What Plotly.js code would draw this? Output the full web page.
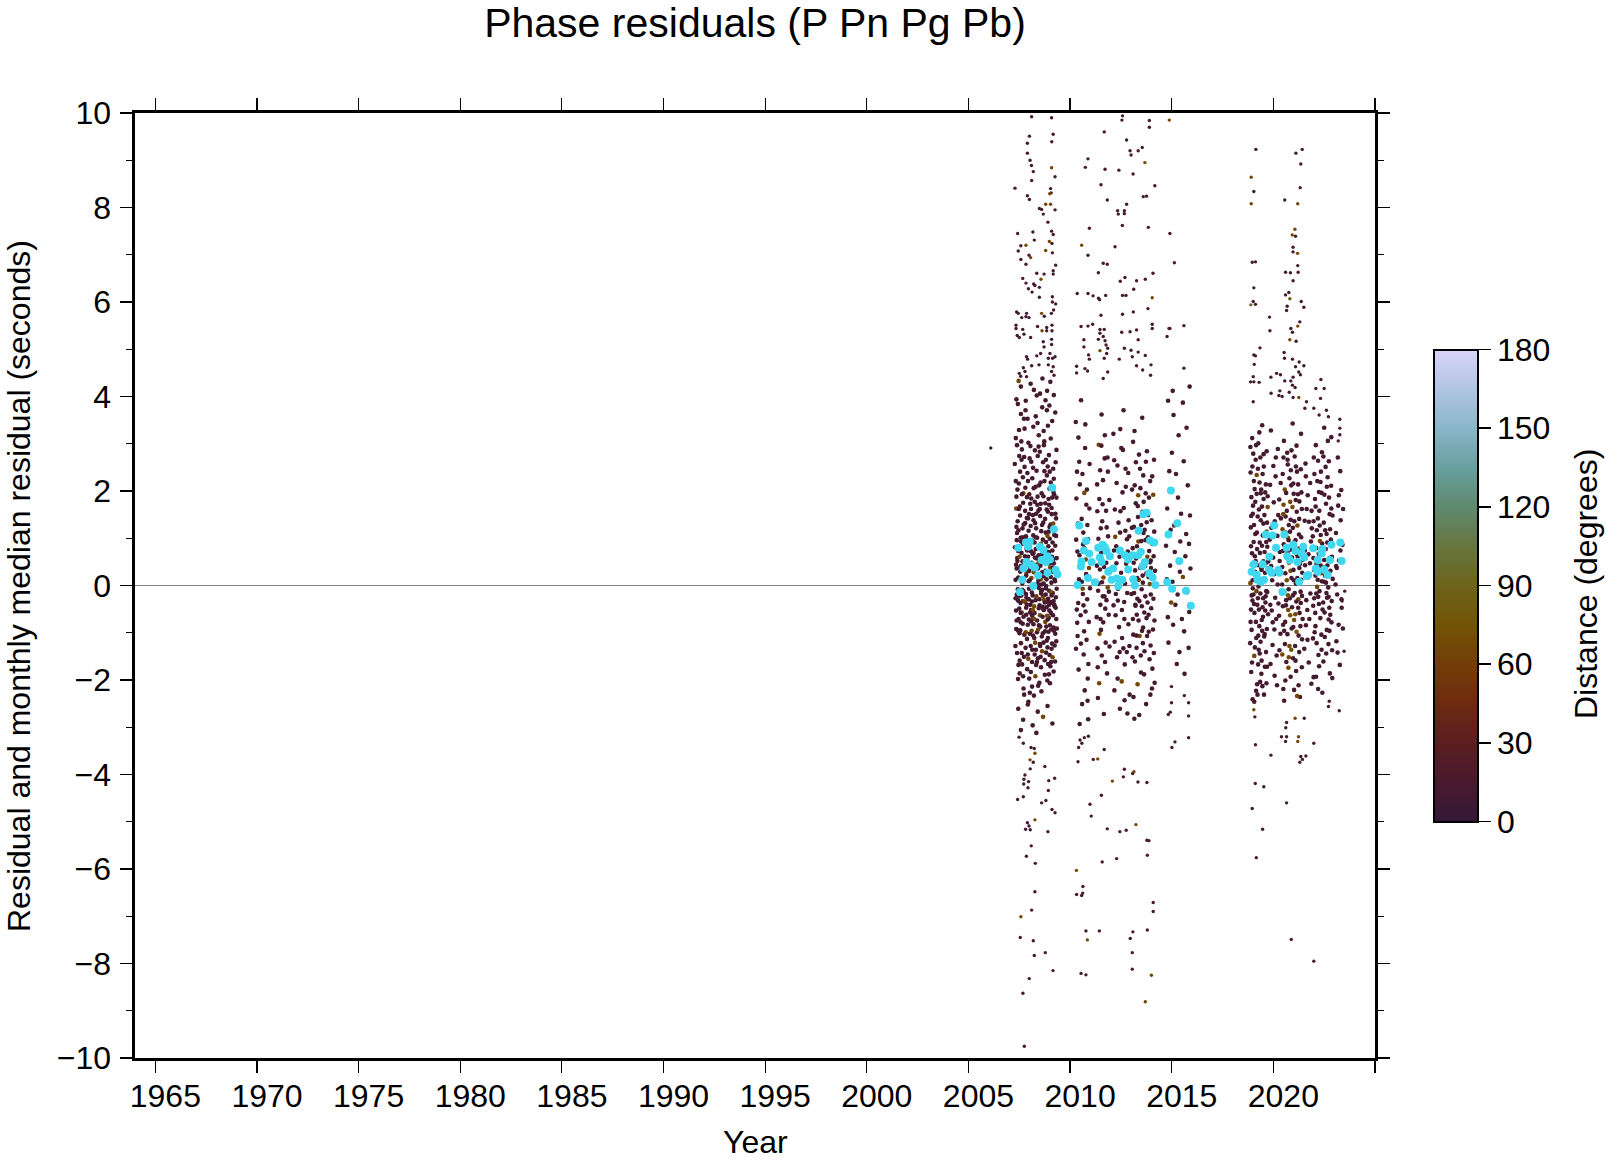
<!DOCTYPE html>
<html>
<head>
<meta charset="utf-8">
<script src="https://cdn.plot.ly/plotly-3.0.1.min.js"></script>
<style>html,body{margin:0;padding:0;background:#fff;}#chart{width:1606px;height:1161px;}</style>
</head>
<body>
<div id="chart"></div>
<script>
// ---- Data: each row = [year, residual (s), distance (deg)] ----
const isolatedPoints = [[2006.10,2.91,14]];

const upperTailsABC = [[2008.11,9.92,14],[2009.09,9.90,12],[2012.58,9.94,16],[2012.55,9.85,11],[2013.90,9.84,15],[2013.90,9.70,13],[2014.88,9.85,66],[2008.00,9.51,14],[2009.17,9.55,12],[2009.10,9.39,17],[2007.90,9.36,13],[2011.68,9.60,11],[2012.78,9.43,15],[2013.55,9.27,12],[2013.35,9.20,14],[2012.95,9.20,10],[2013.00,9.11,16],[2007.90,9.15,13],[2008.03,9.00,12],[2008.10,8.89,15],[2008.19,8.76,11],[2010.88,9.03,14],[2010.75,8.85,12],[2011.72,8.81,16],[2012.40,8.79,13],[2013.10,8.71,12],[2013.68,8.95,68],[2009.09,8.84,62],[2009.26,8.65,13],[2008.11,8.57,14],[2009.04,8.40,12],[2009.07,8.31,15],[2007.29,8.41,13],[2011.52,8.48,11],[2014.17,8.46,14],[2007.90,8.25,12],[2008.00,8.17,16],[2009.00,8.29,64],[2013.76,8.24,13],[2013.60,8.23,15],[2011.83,8.16,12],[2012.78,8.07,14],[2008.49,7.98,13],[2008.60,7.96,11],[2008.68,7.86,15],[2008.80,8.07,66],[2009.04,8.07,63],[2009.26,7.95,12],[2012.34,7.93,14],[2012.67,7.93,13],[2012.37,7.86,11],[2012.67,7.87,16],[2008.91,7.69,13],[2009.09,7.50,12],[2009.17,7.43,15],[2007.42,7.45,14],[2008.17,7.48,12],[2010.95,7.56,13],[2012.57,7.62,11],[2013.85,7.58,14],[2014.91,7.45,12],[2007.83,7.20,67],[2008.24,7.31,13],[2008.98,7.28,65],[2009.11,7.24,12],[2007.58,7.19,14],[2007.45,7.08,11],[2010.57,7.20,68],[2012.21,7.17,13],[2008.80,7.09,64],[2009.13,7.04,12],[2007.98,6.99,15],[2008.06,6.94,66],[2007.58,6.90,13],[2007.83,6.80,12],[2009.29,6.78,14],[2010.88,6.99,11],[2011.63,6.82,13],[2011.83,6.80,15],[2015.13,6.83,12],[2011.39,6.62,14],[2009.17,6.66,13],[2008.72,6.59,12],[2008.36,6.61,16],[2009.17,6.59,11],[2014.08,6.61,13],[2007.67,6.50,12],[2007.83,6.40,14],[2008.21,6.38,13],[2008.27,6.35,11],[2008.57,6.48,65],[2007.95,6.28,12],[2008.13,6.21,14],[2008.49,6.31,13],[2013.27,6.45,12],[2013.70,6.48,15],[2012.47,6.44,13],[2012.70,6.52,11],[2013.13,6.27,14],[2010.35,6.18,12],[2010.88,6.18,13],[2011.13,6.13,15],[2011.40,6.08,12],[2011.75,6.14,14],[2012.58,6.14,13],[2012.75,6.14,11],[2014.04,6.09,64],[2008.49,6.10,12],[2009.13,6.11,13],[2009.13,6.00,14],[2009.29,5.96,12],[2009.19,5.83,13],[2009.08,5.76,15],[2007.37,5.79,12],[2007.45,5.76,14],[2007.62,5.67,13],[2007.83,5.69,11],[2007.98,5.67,15],[2007.86,5.76,12],[2011.52,5.72,13],[2013.83,5.86,14],[2013.11,5.79,12],[2012.58,5.74,13],[2011.45,6.05,11],[2014.04,5.53,14],[2014.04,5.44,12],[2014.86,5.44,66],[2014.91,5.44,13],[2015.60,5.50,12],[2008.60,5.76,65],[2008.73,5.70,13],[2008.40,5.48,12],[2008.62,5.39,66],[2008.85,5.46,14],[2008.85,5.39,13],[2007.34,5.51,12],[2007.34,5.44,15],[2007.67,5.42,13],[2007.40,5.29,11],[2007.50,5.25,14],[2007.73,5.32,12],[2008.06,5.25,13],[2009.11,5.51,14],[2009.11,5.39,12],[2009.09,5.21,13],[2009.09,5.10,11],[2010.54,5.48,14],[2010.88,5.49,12],[2011.11,5.53,13],[2011.47,5.42,15],[2011.68,5.42,12],[2011.47,5.34,14],[2011.39,5.21,13],[2011.63,5.27,11],[2011.72,5.18,14],[2011.77,5.09,12],[2013.27,5.41,13],[2013.35,5.20,15],[2012.95,5.37,12],[2012.54,5.36,14],[2014.77,5.27,13],[2008.68,5.16,12],[2008.72,5.05,14],[2009.01,4.91,13],[2008.93,4.81,11],[2009.14,4.81,15],[2009.26,4.84,12],[2008.55,4.91,13],[2008.36,4.86,14],[2007.86,4.84,12],[2007.91,4.79,13],[2010.68,5.20,11],[2010.68,5.05,14],[2010.91,4.88,12],[2010.95,4.79,13],[2011.85,5.02,15],[2011.68,4.81,12],[2011.80,4.91,14],[2011.47,4.97,65],[2012.42,4.79,13],[2012.67,5.02,12],[2013.00,4.98,14],[2013.35,4.94,13],[2013.70,4.87,11],[2013.06,4.84,14],[2013.98,4.67,12],[2013.57,4.56,13],[2013.27,4.65,15],[2013.96,4.45,12],[2015.60,4.60,14],[2008.11,4.65,13],[2007.70,4.61,12],[2007.78,4.53,14],[2007.50,4.49,13],[2007.57,4.43,11],[2007.86,4.42,15],[2008.47,4.67,12],[2008.93,4.67,13],[2009.17,4.63,14],[2009.09,4.53,12],[2009.21,4.45,13],[2010.32,4.64,11],[2010.32,4.50,14],[2010.73,4.59,12],[2010.86,4.54,13],[2011.85,4.52,15],[2011.63,4.38,12]];

const lowerTailsABC = [[2007.49,-3.21,13],[2007.70,-3.34,12],[2008.08,-3.43,14],[2008.24,-3.45,13],[2008.03,-3.69,66],[2008.19,-3.74,12],[2008.27,-3.55,64],[2008.04,-3.88,13],[2007.78,-4.01,14],[2007.73,-4.10,12],[2007.72,-4.20,13],[2007.96,-4.15,11],[2007.93,-4.28,14],[2007.42,-4.53,12],[2007.70,-4.47,13],[2008.76,-3.83,15],[2008.95,-4.13,12],[2009.24,-4.08,13],[2008.93,-4.34,14],[2008.60,-4.60,12],[2008.81,-4.55,13],[2009.11,-4.74,11],[2009.26,-4.81,14],[2008.27,-4.96,66],[2007.90,-5.02,12],[2007.98,-5.09,13],[2007.81,-5.16,14],[2008.04,-5.17,12],[2008.91,-5.21,13],[2008.09,-5.51,12],[2007.85,-5.73,14],[2008.29,-5.88,13],[2008.27,-6.48,12],[2008.11,-6.87,14],[2007.58,-7.01,67],[2007.55,-7.45,13],[2008.19,-7.52,12],[2008.24,-7.83,14],[2008.78,-7.77,13],[2009.16,-8.15,12],[2007.99,-8.32,14],[2007.68,-8.63,13],[2007.75,-9.75,12],[2010.39,-3.73,13],[2010.49,-3.27,12],[2010.70,-3.22,14],[2010.90,-3.19,13],[2010.58,-3.34,12],[2010.42,-3.43,14],[2011.14,-3.68,13],[2011.36,-3.67,66],[2011.68,-3.47,12],[2012.67,-3.89,14],[2012.62,-4.05,13],[2013.08,-3.98,12],[2013.14,-3.94,65],[2013.34,-4.16,14],[2013.78,-4.17,13],[2012.08,-4.14,64],[2011.54,-4.44,12],[2010.98,-4.63,13],[2011.04,-4.88,14],[2011.83,-5.15,12],[2012.45,-5.21,13],[2012.76,-5.18,14],[2013.24,-5.06,66],[2013.78,-5.39,12],[2013.88,-5.40,13],[2013.80,-5.71,14],[2011.58,-5.85,12],[2012.29,-5.78,13],[2010.31,-6.03,67],[2010.63,-6.37,12],[2010.32,-6.54,14],[2010.57,-6.56,13],[2010.62,-6.51,12],[2014.09,-6.71,14],[2014.09,-6.90,13],[2010.78,-7.31,12],[2010.85,-7.50,65],[2011.44,-7.31,13],[2013.09,-7.33,14],[2012.96,-7.47,12],[2013.06,-7.77,13],[2013.80,-7.29,14],[2010.54,-8.21,12],[2010.78,-8.24,13],[2013.06,-8.12,14],[2014.00,-8.25,66],[2013.70,-8.81,64],[2014.99,-2.14,13],[2014.99,-2.48,12],[2015.62,-2.33,14],[2014.83,-2.73,13],[2014.93,-2.68,12],[2015.16,-3.31,14],[2015.01,-3.43,13],[2015.83,-2.48,12],[2015.83,-2.76,14],[2015.83,-3.22,13]];

const upperTailsD = [[2019.14,9.23,13],[2021.11,9.15,12],[2021.42,9.23,14],[2021.35,8.92,13],[2018.91,8.64,66],[2019.04,8.34,12],[2021.32,8.42,13],[2018.91,8.08,65],[2020.56,8.16,14],[2021.20,8.08,64],[2021.06,7.54,67],[2020.93,7.42,66],[2021.09,7.39,13],[2020.97,7.16,12],[2020.97,7.06,14],[2021.19,7.03,65],[2021.20,6.77,13],[2018.96,6.84,12],[2019.12,6.85,14],[2020.60,6.63,13],[2020.84,6.62,12],[2021.22,6.63,14],[2020.97,6.45,13],[2019.04,6.30,12],[2020.60,6.15,14],[2020.76,6.20,13],[2020.81,6.07,80],[2021.37,6.01,12],[2021.50,5.89,14],[2020.68,5.91,13],[2020.65,5.82,12],[2019.01,6.01,13],[2019.12,5.95,14],[2018.89,5.94,95],[2019.81,5.68,12],[2021.30,5.58,13],[2021.20,5.49,66],[2019.83,5.39,14],[2020.86,5.44,13],[2020.94,5.36,12],[2020.81,5.20,65],[2021.12,5.17,14],[2019.34,5.03,13],[2019.04,4.88,12],[2019.12,4.86,14],[2019.06,4.68,13],[2020.53,4.93,12],[2020.55,4.81,14],[2020.94,4.79,13],[2021.27,4.73,12],[2021.09,4.63,14],[2021.50,4.65,13],[2021.25,4.52,12],[2019.01,4.42,14],[2019.04,4.31,13],[2018.88,4.31,12],[2019.30,4.30,14],[2019.88,4.41,13],[2020.16,4.49,12],[2020.35,4.46,14],[2020.56,4.33,13],[2020.86,4.33,12],[2020.97,4.41,14],[2021.33,4.46,13],[2020.94,4.24,12],[2021.07,4.19,14],[2022.34,4.36,13],[2022.09,4.17,12],[2022.50,4.17,14],[2022.32,3.96,13],[2019.89,4.07,12],[2020.32,4.12,14],[2020.27,4.02,13],[2020.43,4.00,12],[2020.78,4.09,14],[2020.97,3.98,13],[2021.25,3.98,65],[2019.01,3.89,12],[2021.63,3.89,14],[2021.55,3.75,13],[2022.61,3.71,12],[2022.71,3.57,14],[2022.25,3.61,13],[2021.99,3.75,12],[2023.27,3.52,14],[2023.27,3.33,13],[2023.27,3.19,12],[2023.19,3.06,14]];

const lowerTailsD = [[2019.09,-2.78,13],[2019.04,-2.63,66],[2019.12,-3.37,12],[2019.88,-3.59,14],[2020.40,-3.20,13],[2020.65,-3.20,12],[2020.60,-3.30,14],[2021.24,-3.20,65],[2021.20,-3.30,64],[2021.07,-2.81,66],[2021.52,-2.81,13],[2020.61,-3.01,12],[2020.65,-2.90,14],[2021.35,-3.62,13],[2021.43,-3.68,12],[2021.30,-3.74,14],[2021.60,-3.61,13],[2021.99,-3.34,12],[2022.75,-2.45,14],[2022.71,-2.56,13],[2023.24,-2.65,12],[2019.11,-4.19,14],[2019.53,-4.26,13],[2018.96,-4.72,12],[2020.65,-4.60,14],[2019.47,-5.16,13],[2019.16,-5.76,12],[2020.88,-7.49,14],[2021.99,-7.95,13],[2023.48,-1.39,12],[2023.51,-0.12,14],[2023.38,-0.33,13]];

const coreA = [[2007.33,3.12,13],[2008.47,-0.84,16],[2009.21,1.93,11],[2007.86,0.27,62],[2008.92,-1.66,14],[2007.54,2.41,12],[2008.15,0.95,17],[2009.02,-0.35,13],[2007.71,-2.18,15],[2008.63,3.77,12],
[2009.34,0.58,14],[2007.42,1.36,11],[2008.28,-1.21,66],[2008.81,2.66,13],[2007.98,-0.07,12],[2009.12,3.48,15],[2007.62,-1.43,13],[2008.39,1.71,14],[2008.71,-0.52,18],[2007.29,0.81,12],
[2008.05,2.95,13],[2009.27,-1.02,15],[2007.79,1.58,14],[2008.56,0.13,71],[2008.99,1.24,12],[2007.47,-0.71,16],[2008.22,-2.33,13],[2008.87,4.12,14],[2007.93,2.21,11],[2009.08,0.06,13],
[2007.58,3.63,12],[2008.34,0.44,15],[2008.76,-1.89,13],[2007.38,-0.19,14],[2009.17,2.47,12],[2008.11,-0.96,68],[2007.83,1.04,13],[2008.51,2.83,15],[2008.95,-0.68,12],[2007.66,0.51,14],
[2008.42,-1.54,13],[2009.31,1.42,12],[2007.51,-1.01,15],[2008.19,3.36,14],[2008.83,0.72,13],[2007.89,-1.77,12],[2009.05,2.18,16],[2007.36,1.88,13],[2008.67,-0.23,64],[2008.02,0.39,14],
[2007.74,2.72,12],[2008.58,1.15,13],[2009.24,-0.44,15],[2007.95,-2.46,13],[2008.31,2.09,14],[2008.89,-1.31,12],[2007.45,0.17,16],[2009.14,0.91,13],[2008.08,1.62,12],[2007.68,-0.33,67],
[2008.73,3.05,14],[2007.31,-1.28,13],[2008.45,0.64,12],[2009.01,-2.07,15],[2007.82,3.91,13],[2008.25,-0.58,14],[2008.94,1.83,12],[2007.57,1.01,13],[2009.29,2.61,15],[2008.13,-1.62,12],
[2007.41,2.03,14],[2008.61,-1.08,13],[2008.36,4.02,12],[2007.97,0.85,66],[2009.19,-0.89,14],[2007.64,-0.09,13],[2008.79,0.31,15],[2008.18,2.49,12],[2007.88,-1.13,13],[2009.36,0.22,14],
[2008.53,1.47,12],[2007.49,3.29,13],[2008.97,-0.11,15],[2007.72,1.29,14],[2008.29,-1.92,63],[2008.86,2.33,12],[2007.34,-0.53,13],[2009.09,1.64,14],[2008.04,-0.41,12],[2008.66,0.97,15],
[2007.61,0.69,13],[2008.41,2.74,12],[2009.26,-1.61,14],[2007.84,-0.62,13],[2008.21,0.28,69],[2008.91,3.38,12],[2007.52,-1.86,14],[2009.03,0.47,13],[2008.49,-0.29,12],[2007.99,1.93,15],
[2008.77,-0.97,13],[2007.39,1.11,14],[2008.14,-1.36,12],[2009.15,-0.16,13],[2007.76,2.51,15],[2008.59,-2.24,14],[2008.33,1.21,12],[2007.56,-0.37,13],[2008.98,0.62,65],[2007.91,3.53,14],
[2009.32,-0.71,12],[2008.07,0.73,13],[2008.69,1.89,15],[2007.44,-0.95,14],[2008.84,-0.46,12],[2007.69,1.75,13],[2008.24,0.02,14],[2009.11,-1.23,12],[2007.81,0.44,13],[2008.55,2.18,15],
[2007.28,2.57,13],[2008.38,-0.74,14],[2009.22,1.07,12],[2007.94,-1.55,66],[2008.72,0.19,13],[2008.01,2.69,14],[2007.59,0.93,12],[2008.88,-2.01,13],[2008.46,3.18,15],[2009.06,-0.58,14],
[2007.67,-0.81,12],[2008.17,1.49,13],[2008.93,0.83,14],[2007.37,0.36,12],[2008.62,-1.39,64],[2009.18,1.98,13],[2007.85,-0.26,14],[2008.27,2.86,12],[2008.82,-0.01,13],[2007.53,1.67,15],
[2008.99,-1.47,13],[2007.46,-1.68,12],[2008.35,0.57,14],[2009.28,0.35,13],[2007.75,-1.04,12],[2008.52,-0.63,70],[2008.09,1.84,13],[2008.74,2.42,14],[2007.63,2.88,12],[2009.07,-0.93,13],
[2008.44,0.11,12],[2007.92,-0.83,14],[2008.68,1.33,13],[2007.32,-0.27,12],[2009.13,0.74,15],[2008.23,-0.44,67],[2008.85,-1.17,13],[2007.78,0.62,14],[2008.57,-1.73,12],[2009.33,1.86,13],
[2007.55,0.29,14],[2008.12,-0.15,13],[2008.96,2.76,12],[2007.87,1.43,15],[2008.43,-2.12,13],[2009.24,0.13,14],[2007.43,3.84,12],[2008.78,-0.77,64],[2008.06,-1.28,13],[2008.64,0.55,14],
[2007.73,-1.51,12],[2009.04,1.29,13],[2008.32,1.02,15],[2007.96,0.09,14],[2008.86,-0.34,12],[2007.35,-0.92,13],[2009.19,-1.82,14],[2008.48,0.83,12],[2008.16,-0.69,65],[2007.65,0.04,13],
[2008.91,1.56,14],[2007.48,2.16,12],[2008.58,-0.12,13],[2009.02,0.38,66],[2007.84,-0.47,14],[2008.37,-0.99,12],[2008.71,2.97,13],[2007.99,-1.97,15],[2009.30,-0.25,13],[2008.20,0.69,14],
[2007.60,-0.21,12],[2008.80,1.12,13],[2008.03,-0.57,14],[2009.16,-0.63,12],[2007.70,1.95,65],[2008.54,0.42,13],[2008.26,-1.46,14],[2008.95,0.26,12],[2007.40,0.58,13],[2009.09,-1.34,14],
[2007.77,0.33,13],[2008.40,1.88,12],[2008.83,-0.87,14],[2007.50,-0.49,13],[2009.25,1.17,12],[2008.10,0.16,63],[2008.66,-1.01,14],[2007.90,2.38,13],[2008.30,-0.31,12],[2009.00,0.99,13],
[2007.58,-1.22,14],[2008.50,-0.42,12],[2008.97,1.71,13],[2007.66,1.21,14],[2008.18,-1.06,12],[2008.87,0.54,13],[2007.35,1.63,66],[2009.12,-0.37,14],[2008.44,1.58,12],[2007.97,-0.72,13],
[2008.61,0.66,14],[2007.45,0.73,13],[2009.20,0.47,12],[2008.06,1.26,14],[2008.75,-1.58,13],[2007.81,-1.32,12],[2008.34,-0.23,64],[2008.92,-0.28,13],[2007.63,0.16,14],[2009.32,-1.18,12],
[2008.14,2.27,13],[2008.69,-0.51,14],[2007.39,-1.43,12],[2008.99,2.05,13],[2008.25,0.91,15],[2007.86,0.78,12],[2008.53,-0.87,13],[2009.06,-0.14,67],[2007.71,-0.66,14],[2008.41,0.03,12],
[2008.80,-0.19,13],[2007.54,1.48,14],[2008.20,-0.82,12],[2009.15,0.29,13],[2007.93,0.61,14],[2008.60,1.95,12],[2008.02,-2.27,13],[2008.89,1.05,65],[2007.47,-0.14,14],[2008.33,-1.68,12],
[2009.27,0.84,13],[2007.68,2.29,14],[2008.46,-0.05,12],[2008.94,-0.98,13],[2007.32,0.12,14],[2008.11,0.48,12],[2008.72,-0.31,66],[2007.83,-0.18,13],[2008.56,1.73,14],[2009.03,-1.71,12],
[2007.44,-0.32,13],[2008.28,1.32,12],[2008.84,0.13,14],[2007.96,1.16,13],[2008.65,-0.66,12],[2009.22,-0.41,13],[2007.62,-0.57,64],[2008.38,0.24,14],[2008.98,-0.53,12],[2008.04,0.95,13],
[2007.74,0.89,12],[2008.51,-1.24,14],[2009.10,1.51,13],[2008.16,-0.21,12],[2008.77,1.41,13],[2007.51,0.38,14],[2008.43,-0.93,65],[2009.34,-0.07,12],[2007.88,1.87,13],[2008.24,-1.11,14],
[2008.90,-0.72,12],[2007.57,-0.78,13],[2008.31,0.77,14],[2008.70,0.04,12],[2007.80,-0.35,63],[2009.18,0.56,13],[2008.08,-0.52,14],[2008.55,-1.51,12],[2007.38,0.96,13],[2008.96,0.71,14],
[2008.19,1.06,12],[2007.69,-1.92,13],[2008.82,-1.42,14],[2009.05,0.18,12],[2008.47,0.49,66],[2007.99,0.31,13],[2008.63,-0.09,14],[2007.49,-0.23,12],[2009.29,-0.47,13],[2008.13,-0.63,14],
[2007.36,3.94,13],[2007.58,4.21,12],[2007.81,3.71,14],[2008.06,4.27,13],[2008.31,3.58,12],[2008.52,4.06,13],[2008.79,3.92,14],[2009.03,4.31,12],[2009.27,3.66,13],[2007.47,4.33,65],[2007.73,3.53,12],[2008.22,4.14,13],[2008.64,4.38,12],[2008.98,3.81,14],[2009.20,4.03,13],
[2007.45,-2.61,13],[2007.69,-2.84,12],[2007.92,-2.52,14],[2008.16,-2.96,13],[2008.41,-2.67,12],[2008.67,-2.78,65],[2008.89,-2.55,13],[2009.13,-2.92,12],[2007.58,-3.06,14],[2008.34,-3.12,13],
[2007.41,0.52,13],[2007.63,1.93,12],[2007.87,-0.41,14],[2008.09,2.62,13],[2008.32,-1.36,12],[2008.57,0.88,66],[2008.81,-0.06,13],[2009.05,3.11,14],[2009.28,1.52,12],[2007.52,-1.59,13],
[2007.76,3.32,14],[2008.01,0.11,12],[2008.26,1.77,13],[2008.49,-2.06,14],[2008.74,2.21,12],[2008.97,-0.41,13],[2009.21,-0.96,14],[2007.33,2.21,12],[2007.58,0.41,13],[2007.82,-0.99,64],
[2008.07,-1.83,13],[2008.35,2.43,14],[2008.59,0.02,12],[2008.85,1.61,13],[2009.09,-0.21,14],[2009.33,2.87,12],[2007.46,1.17,13],[2007.71,-0.12,14],[2007.95,3.02,12],[2008.20,1.38,13],
[2008.45,2.94,14],[2008.69,-1.21,12],[2008.94,0.47,13],[2009.17,1.31,66],[2007.37,-0.74,12],[2007.61,2.66,13],[2007.85,0.97,14],[2008.12,-0.34,12],[2008.37,-1.62,13],[2008.62,1.28,14],
[2008.86,3.71,12],[2009.11,0.61,13],[2009.35,-0.91,14],[2007.50,2.74,12],[2007.74,-2.31,13],[2007.98,1.51,14],[2008.23,-0.71,67],[2008.48,2.12,12],[2008.72,0.76,13],[2008.96,-1.88,14],
[2009.20,2.26,12],[2007.43,-0.08,13],[2007.67,1.02,14],[2007.92,-1.46,12],[2008.15,0.67,13],[2008.40,3.44,14],[2008.65,-0.45,12],[2008.90,2.52,13],[2009.14,-1.52,65],[2007.34,0.44,12],
[2007.57,-0.58,13],[2007.80,2.07,14],[2008.04,1.73,12],[2008.29,0.35,13],[2008.53,-1.28,14],[2008.78,1.74,12],[2009.01,-0.84,13],[2009.26,0.09,14],[2007.48,1.62,12],[2007.72,0.15,63],
[2007.97,-0.29,13],[2008.21,2.06,14],[2008.46,-0.48,12],[2008.70,3.27,13],[2008.95,1.14,14],[2009.19,-0.33,12],[2007.39,2.97,13],[2007.64,-1.67,14],[2007.89,0.74,12],[2008.13,-2.14,13],
[2008.38,1.01,14],[2008.63,0.28,12],[2008.87,-0.64,68],[2009.12,1.86,13],[2007.55,-0.95,14],[2007.79,1.32,12],[2008.02,-1.02,13],[2008.27,0.59,14],[2008.51,1.62,12],[2008.76,-0.36,13],
[2009.00,2.41,14],[2009.24,-1.27,12],[2007.44,-1.98,13],[2007.68,0.88,14],[2007.93,1.42,12],[2008.17,-0.52,65],[2008.42,0.36,13],[2008.67,2.61,14],[2008.91,-1.11,12],[2009.15,0.38,13],
[2007.36,1.24,14],[2007.60,3.05,12],[2007.84,0.21,13],[2008.08,-0.76,14],[2008.33,1.52,12],[2008.58,-0.17,13],[2008.82,0.92,14],[2009.07,-1.62,12],[2009.31,1.05,13],[2007.51,0.61,66]];

const coreB = [[2010.31,1.84,13],[2010.52,-0.63,12],[2010.74,2.91,14],[2010.93,0.37,65],[2010.42,-1.78,13],[2010.65,1.12,12],[2010.86,-2.44,14],[2010.28,3.46,13],[2010.58,0.08,12],[2010.81,-1.15,13],
[2011.34,1.57,14],[2011.52,-0.94,12],[2011.71,3.18,13],[2011.88,0.64,12],[2011.43,-2.07,66],[2011.62,2.23,13],[2011.79,-0.31,14],[2011.39,0.99,12],[2011.56,-1.48,13],[2011.93,1.81,12],
[2012.14,-0.42,13],[2012.33,2.54,12],[2012.51,0.27,14],[2012.69,-1.67,13],[2012.88,1.38,12],[2012.22,1.03,65],[2012.45,-2.61,13],[2012.63,3.71,12],[2012.81,-0.16,14],[2012.19,-1.19,13],
[2013.08,0.79,12],[2013.27,-1.32,14],[2013.46,2.06,13],[2013.65,-0.57,12],[2013.84,1.49,13],[2014.03,-2.18,14],[2013.17,3.27,12],[2013.38,0.12,66],[2013.59,-0.89,13],[2013.78,2.84,12],
[2013.97,0.53,14],[2014.15,-0.74,13],[2013.12,-2.36,12],[2013.33,1.68,13],[2013.52,-0.08,14],[2013.71,0.96,12],[2013.91,-1.56,13],[2014.09,1.92,65],[2013.22,-0.43,12],[2013.44,2.47,13],
[2010.36,0.72,14],[2010.61,2.36,12],[2010.84,-0.29,13],[2010.47,-2.93,12],[2010.69,-0.97,14],[2010.95,1.63,13],[2010.33,-0.51,12],[2010.77,0.55,64],[2010.54,3.92,13],[2010.90,-1.66,12],
[2011.47,0.34,13],[2011.66,-2.72,14],[2011.84,2.71,12],[2011.31,-0.67,13],[2011.58,1.36,12],[2011.75,-1.21,14],[2011.91,-0.13,13],[2011.41,2.98,67],[2011.68,0.81,12],[2011.36,-1.73,13],
[2012.27,0.83,12],[2012.41,-0.88,14],[2012.58,1.97,13],[2012.76,0.46,12],[2012.92,-1.28,13],[2012.17,2.65,14],[2012.36,-0.07,12],[2012.54,-2.03,66],[2012.72,1.16,13],[2012.86,2.38,12],
[2013.14,1.24,14],[2013.31,-0.28,13],[2013.49,-1.84,12],[2013.68,0.41,13],[2013.87,-0.98,14],[2014.06,0.88,12],[2013.25,0.57,13],[2013.42,-1.07,63],[2013.62,1.77,12],[2013.81,-0.36,13],
[2014.12,-1.43,14],[2013.09,-0.71,12],[2013.55,3.55,13],[2013.74,-2.51,12],[2013.94,2.21,14],[2014.18,0.31,13],[2013.19,-1.61,12],[2013.36,0.93,64],[2013.57,0.21,13],[2013.99,-0.48,12],
[2010.39,1.31,13],[2010.63,-0.18,14],[2010.88,0.98,12],[2010.45,2.62,13],[2010.72,-2.22,12],[2010.29,-1.34,14],[2011.33,2.14,13],[2011.49,-0.41,12],[2011.64,0.17,65],[2011.82,-1.86,13],
[2011.55,3.62,12],[2011.87,1.04,14],[2012.24,-0.63,13],[2012.48,1.57,12],[2012.66,-0.35,14],[2012.84,0.72,13],[2012.31,-1.52,12],[2012.93,-2.31,13],[2012.12,0.38,66],[2012.60,2.87,12],
[2013.05,2.03,13],[2013.28,-0.62,14],[2013.47,0.69,12],[2013.66,-1.39,13],[2013.86,0.18,12],[2014.01,1.38,14],[2013.15,-0.16,13],[2013.40,-2.74,12],[2013.61,1.11,13],[2013.80,0.61,65],
[2010.50,0.42,12],[2010.80,1.71,13],[2010.35,-0.79,14],[2010.67,-1.46,12],[2010.98,-0.06,13],[2011.38,-0.11,14],[2011.60,1.72,12],[2011.78,0.48,13],[2011.45,-1.02,64],[2011.90,-0.62,12],
[2012.20,1.61,13],[2012.39,0.11,14],[2012.56,-1.11,12],[2012.74,2.09,13],[2012.90,0.33,12],[2013.11,-1.04,14],[2013.34,1.45,13],[2013.53,-0.44,12],[2013.72,1.95,13],[2013.92,0.03,66],
[2014.08,-0.93,12],[2013.24,2.61,13],[2013.45,0.37,14],[2013.64,-1.88,12],[2013.83,1.02,13],[2010.57,1.41,14],[2010.76,-0.55,12],[2011.51,1.21,13],[2011.73,-0.49,14],[2012.43,0.61,12],
[2012.67,-0.71,13],[2012.29,2.17,12],[2013.02,-0.18,14],[2013.20,0.32,13],[2013.50,1.28,12],[2013.76,-0.69,13],[2013.96,-1.27,14],[2010.44,0.13,12],[2010.71,0.79,65],[2011.42,0.58,13],
[2011.69,-0.23,12],[2011.86,2.41,14],[2012.35,-0.32,13],[2012.79,-1.41,12],[2013.29,0.83,13],[2013.58,-1.22,14],[2013.89,0.73,12],[2014.14,1.14,13],[2010.83,2.03,12],[2011.57,0.07,14],
[2010.30,0.97,13],[2010.48,2.14,12],[2010.66,-0.42,14],[2010.85,1.28,13],[2010.37,-1.07,12],[2010.59,-2.51,13],[2010.79,0.24,14],[2010.96,2.57,12],[2010.41,3.13,13],[2010.70,1.96,65],
[2011.32,0.42,12],[2011.48,2.44,13],[2011.63,-0.78,14],[2011.80,1.23,12],[2011.94,-1.29,13],[2011.37,-2.38,14],[2011.53,0.69,12],[2011.70,2.69,13],[2011.85,-0.04,66],[2011.44,1.83,12],
[2012.16,0.74,13],[2012.34,-1.97,14],[2012.52,2.91,12],[2012.70,0.04,13],[2012.87,-0.82,14],[2012.25,-0.18,12],[2012.46,1.12,13],[2012.64,1.64,14],[2012.82,-2.71,12],[2012.13,3.21,13],
[2013.07,-1.52,14],[2013.23,1.74,12],[2013.41,-0.33,13],[2013.60,2.33,14],[2013.79,-1.07,12],[2013.98,0.37,13],[2014.13,2.66,14],[2013.13,0.48,12],[2013.32,-2.09,65],[2013.51,0.94,13],
[2013.70,-0.23,14],[2013.88,1.86,12],[2014.05,-1.76,13],[2013.18,2.12,14],[2013.37,-0.74,12],[2013.56,1.56,13],[2013.75,0.26,14],[2013.95,-2.31,12],[2014.11,0.62,13],[2013.26,-1.06,14],
[2010.34,2.41,12],[2010.53,-1.23,13],[2010.75,3.41,14],[2010.92,-0.77,12],[2010.46,0.64,13],[2010.62,-0.07,64],[2010.87,-1.97,12],[2011.35,-1.33,13],[2011.54,2.96,14],[2011.72,-1.62,12],
[2011.89,0.33,13],[2011.40,0.04,14],[2011.61,-0.23,12],[2011.77,1.58,13],[2012.18,-2.22,14],[2012.38,1.33,12],[2012.55,-0.52,13],[2012.73,2.47,14],[2012.91,1.04,12],[2012.28,0.47,13],
[2012.47,3.31,14],[2012.62,-1.33,12],[2012.80,0.98,13],[2013.04,1.22,14],[2013.21,-0.41,12],[2013.39,2.77,13],[2013.58,0.06,14],[2013.77,1.34,12],[2013.97,-0.19,13],[2014.16,-2.06,14],
[2013.10,3.04,12],[2013.30,0.16,13],[2013.48,-1.48,14],[2013.67,1.18,12],[2013.86,-0.62,13],[2014.04,2.31,14],[2013.16,-2.82,12],[2013.35,1.91,66],[2013.54,-0.96,13],[2013.73,2.62,14],
[2013.93,0.49,12],[2014.10,-0.28,13],[2010.40,-0.37,14],[2010.64,0.87,12],[2010.89,-2.83,13],[2011.50,-0.71,14],[2011.67,0.39,12],[2012.21,0.16,13],[2012.44,-1.41,14],[2012.68,-2.43,12]];

const coreC = [[2014.78,1.63,13],[2014.92,0.42,12],[2015.07,-0.83,14],[2015.21,2.36,13],[2015.38,-1.41,12],[2015.55,0.18,65],[2015.71,1.09,13],[2015.86,-0.56,12],[2014.84,-1.21,14],[2015.01,2.81,13],
[2015.15,0.71,12],[2015.29,-0.19,13],[2015.46,1.52,14],[2015.63,-1.87,12],[2015.79,2.12,13],[2015.92,0.36,12],[2014.72,0.84,14],[2014.97,-0.36,66],[2015.12,1.27,13],[2015.34,3.18,12],
[2015.50,-0.71,13],[2015.67,0.62,14],[2015.83,-1.32,12],[2014.88,2.42,13],[2015.04,0.08,12],[2015.25,-1.66,14],[2015.42,0.93,13],[2015.59,2.63,12],[2015.76,-0.14,13],[2015.90,1.48,14],
[2014.81,-0.67,12],[2014.95,1.18,13],[2015.18,-0.41,14],[2015.40,0.29,12],[2015.61,-0.97,13],[2015.85,0.88,12],[2015.09,3.61,13],[2015.73,3.34,14],[2014.76,0.13,12],[2015.31,1.86,13],
[2014.82,3.91,13],[2015.05,4.12,12],[2015.55,3.87,14],[2015.88,4.21,13]];

const coreD = [[2018.89,1.23,13],[2019.07,-0.58,12],[2019.24,2.47,14],[2019.41,0.36,13],[2019.58,-1.72,12],[2019.72,1.66,65],[2018.96,3.12,13],[2019.15,-2.23,12],[2019.33,0.91,14],[2019.50,-0.27,13],
[2019.67,2.84,12],[2018.93,-0.94,13],[2019.11,1.77,14],[2019.28,-1.36,12],[2019.45,3.39,13],[2019.62,0.47,12],[2018.87,0.05,66],[2019.04,2.21,13],[2019.21,-0.41,14],[2019.38,1.38,12],
[2019.55,-1.08,13],[2019.70,0.82,12],[2018.91,-1.83,14],[2019.09,0.62,13],[2019.26,3.01,12],[2019.43,-0.73,13],[2019.60,1.97,14],[2018.99,1.52,12],[2019.17,-0.12,64],[2019.35,-2.04,13],
[2019.82,0.97,12],[2019.96,-1.26,13],[2020.11,2.31,14],[2020.25,-0.38,12],[2020.37,1.42,13],[2019.88,3.28,12],[2020.03,0.24,14],[2020.18,-2.11,13],[2020.32,0.71,12],[2019.92,-0.53,13],
[2020.45,1.19,66],[2020.58,-0.77,12],[2020.71,2.56,13],[2020.84,0.31,72],[2020.97,-1.54,14],[2021.10,1.81,13],[2021.23,-0.29,68],[2021.36,3.21,12],[2020.49,-2.19,13],[2020.62,0.63,65],
[2020.75,-0.08,13],[2020.88,2.12,12],[2021.01,0.91,14],[2021.14,-0.98,76],[2021.27,1.41,13],[2021.40,-1.73,12],[2020.52,3.06,13],[2020.66,1.58,14],[2020.79,-1.28,67],[2020.92,-0.46,12],
[2021.05,2.73,13],[2021.18,0.16,14],[2021.31,-2.36,12],[2021.44,0.54,13],[2020.43,0.02,12],[2020.56,2.03,70],[2020.69,-1.03,13],[2020.82,1.14,12],[2020.95,3.43,14],[2021.08,-0.61,66],
[2021.21,1.93,13],[2021.34,-0.13,12],[2021.55,0.74,13],[2021.68,-1.15,14],[2021.81,2.17,12],[2021.62,-0.31,13],[2021.75,1.35,12],[2021.87,-2.08,14],[2021.58,2.58,13],[2021.71,0.17,64],
[2021.94,1.04,12],[2022.07,-0.86,13],[2022.20,2.64,14],[2022.33,0.42,12],[2022.46,-1.61,13],[2022.59,1.73,12],[2022.72,-0.24,14],[2022.85,3.14,13],[2021.98,-1.94,12],[2022.11,0.79,13],
[2022.24,-0.39,12],[2022.37,1.96,14],[2022.50,3.34,13],[2022.63,-0.94,12],[2022.76,0.58,13],[2022.89,-1.37,14],[2022.02,2.36,12],[2022.15,-0.03,65],[2022.28,1.27,13],[2022.41,-2.27,12],
[2022.54,0.21,13],[2022.67,2.29,14],[2022.80,-0.62,12],[2023.08,1.11,13],[2023.21,-0.83,12],[2023.34,2.02,14],[2023.12,0.37,13],[2023.27,-1.68,12],[2023.40,0.86,13],[2023.17,2.71,12],
[2018.94,0.44,13],[2019.13,2.66,12],[2019.31,-0.86,14],[2019.48,1.06,13],[2019.65,-0.12,12],[2018.88,2.39,13],[2019.06,-1.49,66],[2019.23,0.19,12],[2019.40,2.03,13],[2019.57,0.71,14],
[2019.74,-0.61,12],[2018.97,-0.32,13],[2019.19,1.12,12],[2019.37,-1.19,14],[2019.53,2.52,13],[2019.03,0.92,12],[2019.27,-0.02,13],[2019.46,-2.13,12],[2019.69,1.33,14],[2018.90,-0.51,13],
[2019.99,0.59,12],[2020.14,-0.71,13],[2020.29,1.82,14],[2019.86,-1.66,12],[2020.07,1.36,13],[2020.22,2.89,12],[2020.35,-1.02,13],[2019.94,0.11,14],[2020.09,-0.26,12],[2020.27,0.34,13],
[2020.47,-0.44,13],[2020.60,1.46,12],[2020.73,-0.52,68],[2020.86,2.44,13],[2020.99,0.33,12],[2021.12,-1.81,14],[2021.25,0.78,65],[2021.38,1.97,13],[2020.51,0.87,12],[2020.64,-1.62,13],
[2020.77,0.48,74],[2020.90,-0.91,13],[2021.03,1.36,12],[2021.16,2.41,14],[2021.29,-0.58,13],[2021.42,0.27,12],[2020.54,-0.14,66],[2020.68,2.81,13],[2020.81,-0.27,12],[2020.94,1.66,69],
[2021.07,-1.28,13],[2021.20,0.61,12],[2021.33,-0.86,14],[2020.46,2.36,13],[2020.59,0.26,12],[2020.72,1.01,78],[2020.85,-1.93,13],[2020.98,2.16,12],[2021.11,0.04,14],[2021.24,-2.11,13],
[2021.37,1.02,12],[2022.00,0.33,13],[2022.13,-1.22,14],[2022.26,1.58,12],[2022.39,2.82,13],[2022.52,-0.57,12],[2022.65,0.91,14],[2022.78,-1.86,13],[2022.91,1.48,12],[2022.05,1.83,13],
[2022.18,0.12,12],[2022.31,-0.69,14],[2022.44,0.66,13],[2022.57,2.51,12],[2022.70,-0.04,13],[2022.83,0.97,14],[2021.96,-0.43,12],[2022.09,2.97,13],[2022.22,-1.47,12],[2022.35,0.26,65],
[2022.48,1.33,13],[2022.61,-0.16,12],[2022.74,1.86,14],[2022.87,-0.33,13],[2021.64,1.62,12],[2021.77,-0.71,13],[2021.52,-1.34,14],[2021.85,0.93,12],[2023.14,-0.19,13],[2023.31,1.38,12],
[2018.92,1.87,13],[2019.10,0.29,12],[2019.29,1.61,14],[2019.47,-0.46,13],[2019.64,-1.41,12],[2018.86,-1.22,13],[2019.02,-0.19,14],[2019.20,0.77,12],[2019.39,0.12,63],[2019.56,1.49,13],
[2019.73,0.36,12],[2018.95,0.68,13],[2019.14,-0.77,14],[2019.32,2.18,12],[2019.51,0.51,13],[2019.68,-0.92,12],[2019.05,1.28,13],[2019.25,-1.67,14],[2019.44,0.84,12],[2019.61,-0.36,13],
[2020.02,1.76,12],[2020.16,-1.48,13],[2020.31,0.52,14],[2019.89,0.41,12],[2020.05,-0.93,13],[2020.20,1.05,12],[2020.38,-0.11,13],[2019.84,2.13,14],[2020.12,2.71,12],[2020.28,-0.64,13],
[2020.50,1.71,67],[2020.63,-0.31,12],[2020.76,1.28,13],[2020.89,0.16,14],[2021.02,-0.73,71],[2021.15,1.56,13],[2021.28,0.37,12],[2021.41,-1.14,13],[2020.44,0.39,12],[2020.57,-1.24,14],
[2020.70,0.71,13],[2020.83,1.77,64],[2020.96,-0.21,12],[2021.09,0.96,13],[2021.22,-0.47,14],[2021.35,2.46,12],[2020.48,-0.83,13],[2020.61,1.12,12],[2020.74,-1.74,66],[2020.87,0.76,13],
[2021.00,1.94,12],[2021.13,-0.34,14],[2021.26,1.08,13],[2021.39,0.71,12],[2021.56,0.43,13],[2021.69,1.91,14],[2021.82,-0.17,12],[2021.60,-0.84,13],[2021.73,0.66,12],[2021.89,1.21,14],
[2022.01,-0.27,13],[2022.14,1.17,12],[2022.27,-0.12,13],[2022.40,0.89,14],[2022.53,-1.09,12],[2022.66,0.43,13],[2022.79,1.19,12],[2022.92,0.14,13],[2022.06,-0.58,14],[2022.19,1.42,12],
[2022.32,2.19,13],[2022.45,-0.36,12],[2022.58,0.77,14],[2022.71,-1.24,13],[2022.84,2.11,12],[2021.97,0.58,13],[2022.10,-1.93,12],[2022.23,0.67,14],[2022.36,-1.04,13],[2022.49,0.08,12],
[2022.62,1.09,13],[2022.75,-0.47,14],[2022.88,0.61,12],[2023.10,-1.18,13],[2023.23,0.53,12],[2023.36,-0.47,14],[2023.19,1.69,13],[2023.29,2.42,12],[2023.42,-0.91,13],[2023.06,0.02,14],
[2019.01,2.79,12],[2019.18,1.94,13],[2019.36,2.71,14],[2019.52,1.83,12],[2018.98,-2.41,13],[2019.22,-2.31,12],[2019.42,-1.59,13],[2019.66,-2.07,14],[2020.53,-2.44,13],[2021.17,-2.34,66],
[2018.90,0.83,13],[2019.08,2.04,12],[2019.26,-1.06,14],[2019.44,1.67,13],[2019.62,-0.23,12],[2018.95,-1.63,13],[2019.13,0.52,14],[2019.31,3.24,12],[2019.49,-0.66,13],[2019.67,1.14,66],
[2018.87,2.93,12],[2019.05,-0.39,13],[2019.23,1.46,14],[2019.41,-1.87,12],[2019.59,0.27,13],[2018.98,0.11,14],[2019.16,-1.11,12],[2019.34,0.69,13],[2019.52,2.78,14],[2019.70,-0.14,12],
[2018.93,-0.21,13],[2019.11,1.09,14],[2019.29,-0.51,12],[2019.47,2.36,13],[2019.65,0.92,14],[2019.00,1.69,12],[2019.20,-2.09,13],[2019.38,1.95,14],[2019.57,-1.03,12],[2019.75,0.51,13],
[2019.85,-0.41,14],[2020.00,2.53,12],[2020.15,0.78,13],[2020.30,-1.37,14],[2019.90,1.22,12],[2020.06,-1.91,13],[2020.21,0.02,14],[2020.36,2.17,12],[2019.97,-0.78,13],[2020.24,1.49,14],
[2020.44,-1.46,66],[2020.57,0.84,13],[2020.70,2.66,12],[2020.83,-0.63,71],[2020.96,1.22,13],[2021.09,-1.59,12],[2021.22,2.14,14],[2021.35,-0.37,13],[2020.49,1.51,64],[2020.62,-0.42,12],
[2020.75,0.96,13],[2020.88,-1.36,77],[2021.01,0.11,12],[2021.14,2.96,13],[2021.27,-1.41,14],[2021.40,1.62,12],[2020.53,-0.96,13],[2020.66,0.11,68],[2020.79,2.27,12],[2020.92,0.59,13],
[2021.05,-0.16,14],[2021.18,1.27,65],[2021.31,0.46,12],[2021.44,-0.71,13],[2020.46,0.73,14],[2020.59,-2.01,12],[2020.72,-0.21,73],[2020.85,1.39,13],[2020.98,-0.88,12],[2021.11,2.52,13],
[2021.24,-1.06,14],[2021.37,0.12,12],[2020.50,2.71,13],[2020.63,1.96,12],[2020.76,-1.52,66],[2020.89,2.86,13],[2021.02,-2.21,14],[2021.15,0.66,12],[2021.28,1.78,13],[2021.41,-0.22,12],
[2021.54,1.37,13],[2021.67,-0.52,14],[2021.80,0.47,12],[2021.60,2.31,13],[2021.74,-1.63,12],[2021.88,1.58,14],[2021.95,-1.12,13],[2022.08,1.67,12],[2022.21,-0.24,14],[2022.34,2.41,13],
[2022.47,0.38,12],[2022.60,-1.44,13],[2022.73,2.63,14],[2022.86,-0.78,12],[2021.99,2.71,13],[2022.12,0.46,14],[2022.25,-1.71,12],[2022.38,0.09,13],[2022.51,1.92,14],[2022.64,-0.26,12],
[2022.77,1.51,13],[2022.90,-1.96,14],[2022.03,-0.99,12],[2022.16,2.21,13],[2022.29,0.94,65],[2022.42,-0.51,12],[2022.55,1.17,13],[2022.68,3.06,14],[2022.81,0.31,12],[2021.98,1.36,13],
[2022.11,-0.17,14],[2022.24,1.98,12],[2022.37,-1.36,13],[2022.50,0.54,14],[2022.63,2.09,12],[2022.76,-0.96,13],[2022.89,0.84,14],[2022.07,0.21,12],[2022.20,-2.19,13],[2022.33,1.07,14],
[2022.46,2.73,12],[2022.59,0.06,13],[2022.72,-0.72,14],[2022.85,1.63,12],[2023.09,0.41,13],[2023.22,1.91,14],[2023.35,-0.29,12],[2023.16,-1.42,13],[2023.30,0.74,14],[2023.43,1.62,12],
[2018.88,-0.77,13],[2019.06,-2.46,14],[2019.24,-0.27,12],[2019.42,0.33,13],[2019.60,-0.53,14],[2018.97,2.52,12],[2019.15,2.97,13],[2019.33,-1.44,14],[2019.51,1.31,12],[2019.69,-1.72,13],
[2018.91,1.47,14],[2019.09,-1.31,12],[2019.27,0.43,13],[2019.45,-0.96,14],[2019.63,2.14,12],[2018.99,-0.06,13],[2019.18,2.34,64],[2019.36,-0.17,12],[2019.54,-2.31,13],[2019.72,1.89,14]];

// Monthly median residuals (cyan)
const medianYear = [2009.12,2009.20,2007.45,2007.83,2008.02,2007.94,2008.52,2008.68,2008.88,2009.01,2008.81,2008.60,2007.86,2008.11,2008.27,2007.70,2008.43,2008.89,2009.29,2009.38,2007.65,2008.19,2007.53,
 2010.45,2010.78,2010.68,2010.94,2011.06,2010.56,2010.53,2010.88,2010.37,2011.22,2011.38,2011.60,2011.79,2011.71,2011.47,2011.55,2011.96,2011.88,2012.12,2012.04,2012.29,2012.57,2012.37,2012.45,2012.70,2012.86,2012.86,2013.11,2013.19,2013.07,2013.35,2013.48,2013.37,2013.60,2013.76,2013.68,2013.56,2013.89,2014.06,2013.93,2014.14,2014.20,
 2014.96,2015.27,2014.84,2015.37,2014.78,2015.02,2015.70,2015.94,
 2020.04,2019.63,2019.96,2020.54,2020.13,2019.80,2019.04,2019.47,2018.93,2019.18,2019.22,2019.39,2019.54,2019.80,2019.91,2020.24,2020.29,2020.45,2020.65,2020.68,2020.81,2020.98,2021.09,2021.19,2021.47,2021.39,2021.52,2021.27,2021.63,2021.72,2021.96,2022.18,2022.41,2022.37,2022.09,2022.18,2022.50,2022.67,2022.78,2022.86,2023.29,2023.36];
const medianResidual = [2.07,1.19,0.80,0.91,0.93,0.82,0.82,0.75,0.62,0.55,0.50,0.54,0.50,0.43,0.38,0.36,0.21,0.27,0.33,0.24,0.12,-0.01,-0.14,
 1.27,0.94,0.74,0.67,0.50,0.51,0.40,0.16,0.01,0.07,0.80,0.86,0.73,0.81,0.59,0.50,0.62,0.29,0.36,0.12,0.15,0.12,-0.01,0.74,0.64,0.55,0.34,0.13,0.00,0.64,0.64,0.71,1.16,1.51,1.54,0.50,0.41,0.26,0.17,0.95,0.91,0.01,
 2.01,1.32,1.08,0.52,0.07,-0.07,-0.11,-0.43,
 1.27,1.08,1.06,1.08,0.80,0.61,0.45,0.45,0.29,0.22,0.12,0.08,0.12,0.33,0.27,0.33,0.27,-0.14,0.80,0.62,0.54,0.86,0.73,0.50,0.82,0.68,0.59,0.08,0.20,0.22,0.79,0.54,0.77,0.68,0.36,0.29,0.34,0.22,0.54,0.86,0.91,0.52];

// Axis ticks
const xTickVals = [1965,1970,1975,1980,1985,1990,1995,2000,2005,2010,2015,2020,2025];
const xTickText = ['1965','1970','1975','1980','1985','1990','1995','2000','2005','2010','2015','2020',''];
const cbTickVals = [0,30,60,90,120,150,180];

// Colour scale (distance)
const distanceColorscale = [
 [0.000,'rgb(52,24,54)'],[0.083,'rgb(72,26,46)'],[0.167,'rgb(92,30,32)'],[0.250,'rgb(110,42,16)'],
 [0.333,'rgb(116,62,8)'],[0.417,'rgb(114,84,6)'],[0.500,'rgb(108,100,26)'],[0.583,'rgb(102,118,64)'],
 [0.667,'rgb(96,138,112)'],[0.750,'rgb(104,160,160)'],[0.833,'rgb(138,182,200)'],[0.917,'rgb(178,198,228)'],[1.000,'rgb(218,212,248)']
];

// ---- Build ----
const tailDots = [].concat(isolatedPoints, upperTailsABC, lowerTailsABC, upperTailsD, lowerTailsD);
const coreDots = [].concat(coreA, coreB, coreC, coreD);

const FONT = 'Liberation Sans, Arial, Helvetica, sans-serif';
const titleFont = {size: 32, family: FONT, color: '#000'};

const traces = [
 {
  type: 'scatter', mode: 'markers', x: coreDots.map(r => r[0]), y: coreDots.map(r => r[1]), hoverinfo: 'skip',
  marker: {size: 4.6, color: coreDots.map(r => r[2]), colorscale: distanceColorscale, cmin: 0, cmax: 180, line: {width: 0}, showscale: false},
  showlegend: false
 },
 {
  type: 'scatter', mode: 'markers', x: tailDots.map(r => r[0]), y: tailDots.map(r => r[1]), hoverinfo: 'skip',
  marker: {
   size: 3.4, color: tailDots.map(r => r[2]), colorscale: distanceColorscale, cmin: 0, cmax: 180,
   line: {width: 0}, showscale: true,
   colorbar: {
    x: 1.0476, xanchor: 'left', xref: 'paper', xpad: 0, ypad: 0,
    y: 0.5, yanchor: 'middle', len: 472, lenmode: 'pixels',
    thickness: 44, thicknessmode: 'pixels',
    outlinewidth: 2, outlinecolor: '#000',
    ticks: 'outside', ticklen: 12, tickwidth: 1.5, tickcolor: '#000',
    tickvals: cbTickVals, tickprefix: '\u00a0', tickfont: {size: 32, family: FONT, color: '#000'}
   }
  },
  showlegend: false
 },
 {
  type: 'scatter', mode: 'markers', x: medianYear, y: medianResidual, hoverinfo: 'skip',
  marker: {size: 8, color: 'rgb(64,216,240)', line: {width: 0}},
  showlegend: false
 }
];

const layout = {
 width: 1606, height: 1161,
 margin: {l: 135, r: 231, t: 113, b: 103, pad: 0},
 paper_bgcolor: '#fff', plot_bgcolor: '#fff',
 font: {family: FONT, color: '#000', size: 32},
 title: {text: 'Phase residuals (P Pn Pg Pb)', font: {size: 41, family: FONT, color: '#000'},
         x: 755/1606, xanchor: 'center', xref: 'container', y: 1 - 23/1161, yanchor: 'middle', yref: 'container'},
 annotations: [
  {text: 'Distance (degrees)', textangle: -90, showarrow: false, borderpad: 0,
   xref: 'paper', yref: 'paper', x: (1586 - 135) / 1240, y: 0.5016, xanchor: 'center', yanchor: 'middle', font: titleFont},
  {text: 'Year', showarrow: false, borderpad: 0,
   xref: 'paper', yref: 'paper', x: 0.5, y: (1058 - 1142) / 945, xanchor: 'center', yanchor: 'middle', font: titleFont},
  {text: 'Residual and monthly median residual (seconds)', textangle: -90, showarrow: false, borderpad: 0,
   xref: 'paper', yref: 'paper', x: (19 - 135) / 1240, y: (1058 - 586) / 945, xanchor: 'center', yanchor: 'middle', font: titleFont}
 ],
 xaxis: {
  range: [1964, 2025], tickmode: 'array', tickvals: xTickVals, ticktext: xTickText,
  showgrid: false, zeroline: false, showline: true, linecolor: '#000', linewidth: 2.6, mirror: 'ticks',
  ticks: 'outside', ticklen: 12, tickwidth: 1.2, tickcolor: '#000',
  tickfont: {size: 32, family: FONT, color: '#000'}, ticklabelstandoff: -4, ticklabelshift: 10,
  automargin: false, fixedrange: true
 },
 yaxis: {
  range: [-10, 10], tick0: 0, dtick: 2,
  showgrid: false, zeroline: true, zerolinecolor: '#808080', zerolinewidth: 1.5,
  showline: true, linecolor: '#000', linewidth: 2.6, mirror: 'ticks',
  ticks: 'outside', ticklen: 12, tickwidth: 1.2, tickcolor: '#000',
  minor: {dtick: 1, ticks: 'outside', ticklen: 6, tickwidth: 1.2, tickcolor: '#000', showgrid: false},
  tickfont: {size: 32, family: FONT, color: '#000'}, ticklabelstandoff: 3,
  automargin: false, fixedrange: true
 }
};

Plotly.newPlot('chart', traces, layout, {displayModeBar: false, staticPlot: true});
</script>
</body>
</html>
